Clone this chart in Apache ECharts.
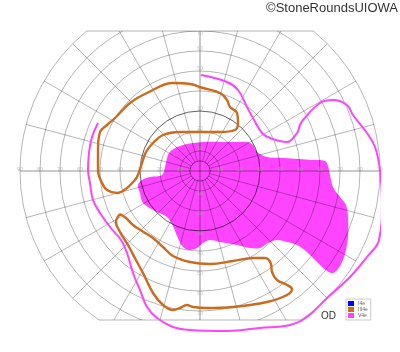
<!DOCTYPE html>
<html><head><meta charset="utf-8">
<script src="https://cdn.jsdelivr.net/npm/echarts@6/dist/echarts.min.js"></script>
<style>html,body{margin:0;padding:0;background:#fff}#c{width:400px;height:352px}</style>
</head><body><div id="c"></div>
<script>
// Visual field coordinates in degrees: [horizontal, vertical]
const v4eOuter = [[0.5,48],[13.5,44.5],[19,40.5],[23.5,32],[26.5,26.5],[31,19],[35,16.5],[43.5,14.5],[48.5,19],[50,23],[51.5,25.5],[60,34],[66.5,35.5],[73.5,33],[76.5,28],[83.5,19],[87.5,12],[90,0.5],[91,-16],[89.5,-34.5],[83.5,-43],[75,-53],[63.5,-63.5],[53.5,-73],[45,-77],[30,-78.5],[13.5,-80],[-5,-79.5],[-13.5,-78],[-21.5,-73.5],[-26.5,-68],[-30,-59.5],[-33.5,-51],[-36.5,-41],[-39.5,-34.5],[-45,-28],[-50,-21],[-53.5,-14.5],[-55,-6],[-56,0.5],[-55.5,9],[-54,17],[-51,24]];
const iii4eUpper = [[-49,-6],[-51,0.5],[-51,10.5],[-50,19.5],[-46.5,23],[-42.5,26.5],[-35,34],[-26.5,39],[-13.5,44],[-5,43.5],[1.5,41.5],[10,39],[13.5,35.5],[15,32],[18.5,29],[19,24],[17.5,20.5],[10,19.5],[0,19.5],[-10,19.5],[-18.5,18],[-23.5,14],[-27,9.5],[-29,4],[-31.5,-3],[-33.5,-5.5],[-36.5,-8.5],[-41.5,-11],[-46.5,-9.5],[-49,-6]];
const iii4eLower = [[-40,-21.5],[-37,-23.5],[-33.5,-27],[-29,-30],[-23.5,-33.5],[-18.5,-38],[-13.5,-42.5],[-5,-45.5],[5,-46.5],[16.5,-45],[26.5,-43.5],[32.5,-43.5],[35.5,-46.5],[36,-50.5],[38.5,-54.5],[43.5,-57],[46,-59],[43.5,-62],[33.5,-65.5],[16.5,-68],[3.5,-68.5],[-3.5,-68],[-6.5,-67],[-10,-68.5],[-13.5,-69.5],[-18.5,-67],[-23.5,-61],[-28.5,-51],[-31.5,-45.5],[-36,-37],[-40,-30.5],[-42,-25.5],[-40,-21.5]];
const v4eScotoma = [[-30,-11],[-31,-7],[-29,-4.5],[-25,-3],[-19,-2],[-17.5,2],[-16,8],[-14,10.5],[-8.5,13],[1.5,14.5],[15,14.5],[23.5,14.5],[26.5,13],[28.5,9.5],[33.5,7],[41.5,6.5],[56.5,5.5],[62.5,5],[64,2.5],[65,-2],[66.5,-8],[70,-13],[73,-17],[74,-23],[74,-33],[73,-39.5],[71.5,-44.5],[69,-49],[66.5,-51],[63.5,-50],[58.5,-45.5],[53.5,-40.5],[48.5,-37],[43.5,-35.5],[38.5,-34.5],[34,-36],[30,-38.5],[25,-38.5],[18.5,-37],[10,-35.5],[5,-34.5],[1.5,-36],[-1.5,-38.5],[-5,-39.5],[-8.5,-38],[-11.5,-32.5],[-13.5,-27.5],[-16.5,-23],[-21.5,-20.5],[-28.5,-16]];
const horizTicks = [10,20,30,40,50,60,70,80,90];
const upperTicks = [10,20,30,40,50,60,70];
const lowerTicks = [10,20,30,40,50,60,70];
const legendNames = ['I4e','III4e','V4e'];
const legendColors = ['#0000ff','#cc6a1e','#ff44ff'];

const chart = echarts.init(document.getElementById('c'), null, {renderer:'canvas'});
const light = 'rgba(0,0,0,0.29)', axisC = 'rgba(0,0,0,0.42)', dark = 'rgba(0,0,0,0.62)', none = 'rgba(0,0,0,0)';
// radius split lines every 5 deg: 0..90
const rColors = [none, light, light, none, light, none, dark, none, light, none, light, none, light, none, light, none, light, none, light];
const aColors = [axisC, light, light, light, light, light];

const labelData = [];
horizTicks.forEach(v => { labelData.push({value:[v,0], off:[0,-1]}); labelData.push({value:[v,180], off:[0,-1]}); });
upperTicks.forEach(v => labelData.push({value:[v,90], off:[0, v===70?3:-2]}));
lowerTicks.forEach(v => labelData.push({value:[v,270], off:[0,3]}));

const option = {
  animation: false,
  title: [
    {text:'©StoneRoundsUIOWA', right: 2, top: 2, padding: 0, z: 12,
     textStyle:{fontSize:13, fontWeight:'normal', color:'#333', fontFamily:'Liberation Sans, Arial, sans-serif'}},
    {text:'OD', left: 321, top: 311, padding: 0, z: 12,
     textStyle:{fontSize:10, fontWeight:'normal', color:'#333', fontFamily:'Liberation Sans, Arial, sans-serif'}}
  ],
  legend: {data: legendNames, orient:'vertical', left: 346, top: 299, itemWidth: 6, itemHeight: 5, itemGap: 1,
    icon:'rect', padding:[2,3,2,2], borderColor:'#c8c8c8', borderWidth:1, selectedMode:false, z: 12,
    textStyle:{fontSize:5, color:'#666', padding:[0,0,0,-1], fontFamily:'Liberation Sans, Arial, sans-serif'}},
  polar: {center:[200,171], radius:180},
  angleAxis: {type:'value', min:0, max:360, interval:15, startAngle:0, clockwise:false, z:1,
    axisLine:{show:false}, axisTick:{show:false}, axisLabel:{show:false},
    splitLine:{show:true, lineStyle:{color:aColors, width:1}}},
  radiusAxis: {type:'value', min:0, max:90, interval:5, z:1,
    axisLine:{show:false}, axisTick:{show:false}, axisLabel:{show:false},
    splitLine:{show:true, lineStyle:{color:rColors, width:1}}},
  grid: {left:20, top:0, width:360, height:351, show:false},
  xAxis: {type:'value', min:-90, max:90, show:false},
  yAxis: {type:'value', min:-90, max:85.5, show:false},
  series: [
    {type:'custom', name:'V4e scotoma', coordinateSystem:'cartesian2d', z:0, silent:true,
     data: v4eScotoma,
     renderItem: function(params, api){
       if (params.dataIndex !== 0) return null;
       const pts = v4eScotoma.map(p => api.coord(p));
       return {type:'polygon', shape:{points:pts, smooth:0.35}, style:{fill:'#ff44ff'}};
     }},
    {type:'scatter', coordinateSystem:'polar', z:6, symbolSize:1, silent:true,
     itemStyle:{color:none},
     data: labelData.map(d => ({value:d.value, label:{offset:d.off}})),
     label:{show:true, position:'inside', formatter: p => String(p.value[0]), fontSize:5, color:'#aaa',
       fontFamily:'Liberation Sans, Arial, sans-serif'}},
    {type:'line', name:'I4e', color:legendColors[0], data:[], z:10},
    {type:'line', name:'III4e', color:legendColors[1], data: iii4eUpper, smooth:0.4, showSymbol:false, z:10,
     lineStyle:{width:2.4, color:legendColors[1]}},
    {type:'line', name:'III4e', color:legendColors[1], data: iii4eLower, smooth:0.4, showSymbol:false, z:10,
     lineStyle:{width:2.4, color:legendColors[1]}},
    {type:'line', name:'V4e', color:legendColors[2], data: v4eOuter, smooth:0.4, showSymbol:false, z:10,
     lineStyle:{width:2, color:legendColors[2]}}
  ]
};
chart.setOption(option);

// clip the grid to the chart's flat top (70 deg up) and bottom (74.5 deg down) edges
const p = (x,y) => chart.convertToPixel({xAxisIndex:0, yAxisIndex:0}, [x,y]);
const R = 90, topE = 70, botE = -74.5, innerR = 5;
const th = Math.sqrt(R*R - topE*topE), bh = Math.sqrt(R*R - botE*botE);
const tl = p(-th, topE), tr = p(th, topE), bl = p(-bh, botE), br = p(bh, botE);
const c0 = p(0,0), cr = p(innerR,0)[0] - c0[0];
const cl = p(-innerR,0), crt = p(innerR,0), ct = p(0,innerR), cb = p(0,-innerR);
chart.setOption({graphic: [
  {type:'rect', z:5, silent:true, shape:{x:0, y:0, width:400, height:tl[1]}, style:{fill:'#fff'}},
  {type:'rect', z:5, silent:true, shape:{x:0, y:bl[1], width:400, height:352-bl[1]}, style:{fill:'#fff'}},
  {type:'line', z:5, silent:true, shape:{x1:tl[0], y1:tl[1], x2:tr[0], y2:tr[1]}, style:{stroke:light, lineWidth:1}},
  {type:'line', z:5, silent:true, shape:{x1:bl[0], y1:bl[1], x2:br[0], y2:br[1]}, style:{stroke:light, lineWidth:1}},
  // spokes start at the 5 degree ring; only the cross passes through the centre
  {type:'circle', z:2, silent:true, shape:{cx:c0[0], cy:c0[1], r:cr}, style:{fill:'#ff44ff', stroke:light, lineWidth:1}},
  {type:'line', z:2, silent:true, shape:{x1:cl[0], y1:cl[1], x2:crt[0], y2:crt[1]}, style:{stroke:axisC, lineWidth:1}},
  {type:'line', z:2, silent:true, shape:{x1:ct[0], y1:ct[1], x2:cb[0], y2:cb[1]}, style:{stroke:axisC, lineWidth:1}}
]});
</script></body></html>
